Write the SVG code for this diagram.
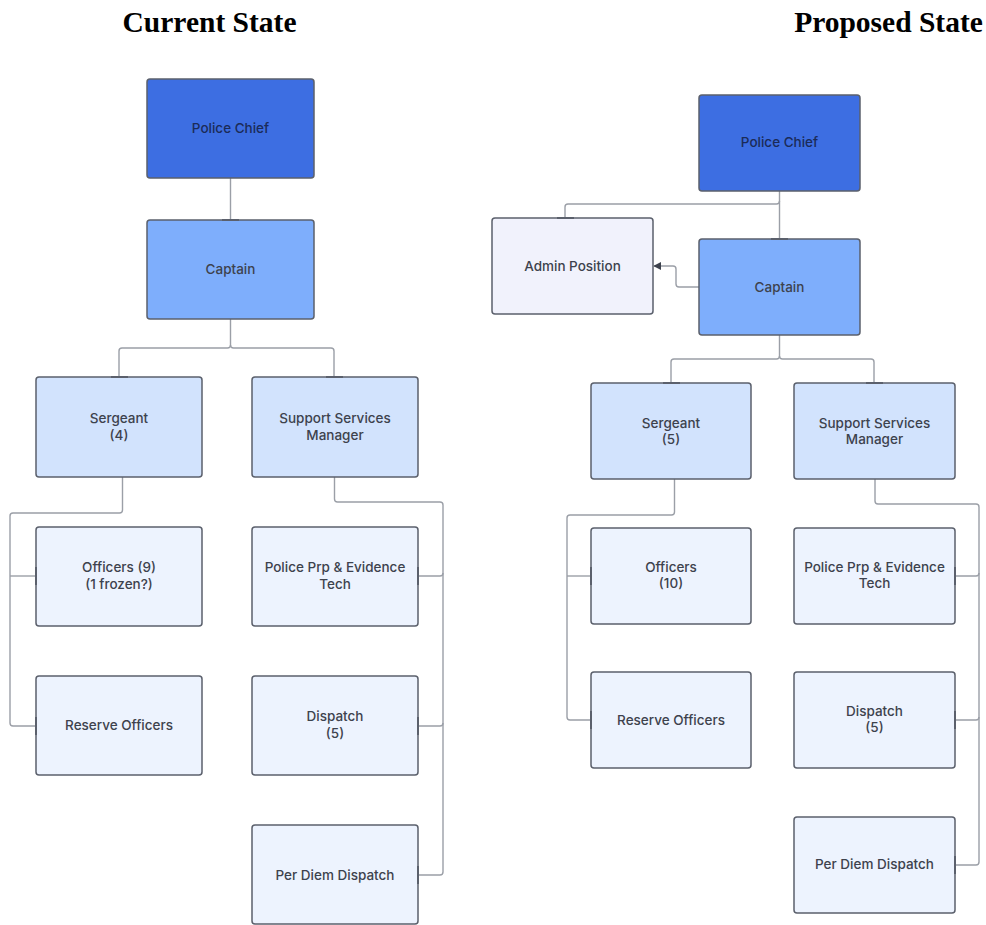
<svg xmlns="http://www.w3.org/2000/svg" width="986" height="925" viewBox="0 0 986 925">
  <style>
    .title { font-family: "Liberation Serif", "Times New Roman", serif; font-weight: bold; font-size: 29.5px; fill: #000; text-anchor: middle; }
    .box { stroke: #5b606c; stroke-width: 1.5; }
    .chief { fill: #3d6ee2; }
    .capt { fill: #7eaefc; }
    .mid { fill: #d2e3fd; }
    .low { fill: #edf3fe; }
    .admin { fill: #f1f2fc; }
    .lbl { font-family: "Inter", "Liberation Sans", Arial, sans-serif; font-size: 13.5px; font-weight: 500; fill: #3d424d; text-anchor: middle; }
    .lbl-dark { fill: #1b2b58; }
    .wire { fill: none; stroke: #9b9fa7; stroke-width: 1.4; stroke-linejoin: round; }
    .tick { stroke: #5b606c; stroke-width: 2; }
  </style>
  <defs>
    <marker id="arrow" viewBox="0 0 10 10" refX="9" refY="5" markerWidth="8" markerHeight="8" markerUnits="userSpaceOnUse" orient="auto">
      <path d="M0,0 L10,5 L0,10 z" fill="#3d424d"/>
    </marker>
  </defs>

  <rect width="986" height="925" fill="#ffffff"/>

  <text class="title" x="209.5" y="32">Current State</text>
  <text class="title" x="888.5" y="32">Proposed State</text>

  <!-- connectors -->
  <g id="connectors">
    <!-- current -->
    <path class="wire" d="M230.5,178 V220"/>
    <path class="wire" d="M230.5,319 V345 Q230.5,348 227.5,348 H122 Q119,348 119,351 V377"/>
    <path class="wire" d="M230.5,345 Q230.5,348 233.5,348 H331 Q334,348 334,351 V377"/>
    <path class="wire" d="M122.5,477 V510 Q122.5,513 119.5,513 H13 Q10,513 10,516 V723 Q10,726 13,726 H36"/>
    <path class="wire" d="M10,576 H36"/>
    <path class="wire" d="M334.5,477 V499 Q334.5,502 337.5,502 H440 Q443,502 443,505 V872 Q443,875 440,875 H418"/>
    <path class="wire" d="M443,573 Q443,576 440,576 H418"/>
    <path class="wire" d="M443,723 Q443,726 440,726 H418"/>
    <!-- proposed -->
    <path class="wire" d="M779.5,191 V239"/>
    <path class="wire" d="M779.5,201 Q779.5,204 776.5,204 H568 Q565,204 565,207 V218"/>
    <path class="wire" d="M699,287 H679 Q676,287 676,284 V269 Q676,266 673,266 H654" marker-end="url(#arrow)"/>
    <path class="wire" d="M779.5,335 V356 Q779.5,359 776.5,359 H674 Q671,359 671,362 V383"/>
    <path class="wire" d="M779.5,356 Q779.5,359 782.5,359 H871 Q874,359 874,362 V383"/>
    <path class="wire" d="M674.5,479 V512 Q674.5,515 671.5,515 H570 Q567,515 567,518 V717 Q567,720 570,720 H591"/>
    <path class="wire" d="M567,576 H591"/>
    <path class="wire" d="M875,479 V501 Q875,504 878,504 H976 Q979,504 979,507 V862 Q979,865 976,865 H955"/>
    <path class="wire" d="M979,573 Q979,576 976,576 H955"/>
    <path class="wire" d="M979,717 Q979,720 976,720 H955"/>
  </g>

  <!-- current state nodes -->
  <g id="cur-chief">
    <rect class="box chief" x="147" y="79" width="167" height="99" rx="3"/>
    <text class="lbl lbl-dark" x="230.5" y="133">Police Chief</text>
  </g>
  <g id="cur-captain">
    <rect class="box capt" x="147" y="220" width="167" height="99" rx="3"/>
    <line class="tick" x1="222" y1="220" x2="239" y2="220"/>
    <text class="lbl" x="230.5" y="274">Captain</text>
  </g>
  <g id="cur-sergeant">
    <rect class="box mid" x="36" y="377" width="166" height="100" rx="3"/>
    <line class="tick" x1="111" y1="377" x2="128" y2="377"/>
    <text class="lbl" x="119" y="423">Sergeant</text>
    <text class="lbl" x="119" y="440">(4)</text>
  </g>
  <g id="cur-ssm">
    <rect class="box mid" x="252" y="377" width="166" height="100" rx="3"/>
    <line class="tick" x1="326" y1="377" x2="343" y2="377"/>
    <text class="lbl" x="335" y="423">Support Services</text>
    <text class="lbl" x="335" y="440">Manager</text>
  </g>
  <g id="cur-officers">
    <rect class="box low" x="36" y="527" width="166" height="99" rx="3"/>
    <line class="tick" x1="36" y1="567" x2="36" y2="585"/>
    <text class="lbl" x="119" y="572">Officers (9)</text>
    <text class="lbl" x="119" y="589">(1 frozen?)</text>
  </g>
  <g id="cur-reserve">
    <rect class="box low" x="36" y="676" width="166" height="99" rx="3"/>
    <line class="tick" x1="36" y1="717" x2="36" y2="735"/>
    <text class="lbl" x="119" y="730">Reserve Officers</text>
  </g>
  <g id="cur-ppet">
    <rect class="box low" x="252" y="527" width="166" height="99" rx="3"/>
    <line class="tick" x1="418" y1="567" x2="418" y2="585"/>
    <text class="lbl" x="335" y="572">Police Prp &amp; Evidence</text>
    <text class="lbl" x="335" y="589">Tech</text>
  </g>
  <g id="cur-dispatch">
    <rect class="box low" x="252" y="676" width="166" height="99" rx="3"/>
    <line class="tick" x1="418" y1="717" x2="418" y2="735"/>
    <text class="lbl" x="335" y="721">Dispatch</text>
    <text class="lbl" x="335" y="738">(5)</text>
  </g>
  <g id="cur-perdiem">
    <rect class="box low" x="252" y="825" width="166" height="99" rx="3"/>
    <line class="tick" x1="418" y1="866" x2="418" y2="884"/>
    <text class="lbl" x="335" y="880">Per Diem Dispatch</text>
  </g>

  <!-- proposed state nodes -->
  <g id="new-chief">
    <rect class="box chief" x="699" y="95" width="161" height="96" rx="3"/>
    <text class="lbl lbl-dark" x="779.5" y="147">Police Chief</text>
  </g>
  <g id="new-admin">
    <rect class="box admin" x="492" y="218" width="161" height="96" rx="3"/>
    <line class="tick" x1="557" y1="218" x2="574" y2="218"/>
    <text class="lbl" x="572.5" y="271">Admin Position</text>
  </g>
  <g id="new-captain">
    <rect class="box capt" x="699" y="239" width="161" height="96" rx="3"/>
    <line class="tick" x1="771" y1="239" x2="788" y2="239"/>
    <text class="lbl" x="779.5" y="292">Captain</text>
  </g>
  <g id="new-sergeant">
    <rect class="box mid" x="591" y="383" width="160" height="96" rx="3"/>
    <line class="tick" x1="663" y1="383" x2="680" y2="383"/>
    <text class="lbl" x="671" y="428">Sergeant</text>
    <text class="lbl" x="671" y="444">(5)</text>
  </g>
  <g id="new-ssm">
    <rect class="box mid" x="794" y="383" width="161" height="96" rx="3"/>
    <line class="tick" x1="866" y1="383" x2="883" y2="383"/>
    <text class="lbl" x="874.5" y="428">Support Services</text>
    <text class="lbl" x="874.5" y="444">Manager</text>
  </g>
  <g id="new-officers">
    <rect class="box low" x="591" y="528" width="160" height="96" rx="3"/>
    <line class="tick" x1="591" y1="567" x2="591" y2="585"/>
    <text class="lbl" x="671" y="572">Officers</text>
    <text class="lbl" x="671" y="588">(10)</text>
  </g>
  <g id="new-reserve">
    <rect class="box low" x="591" y="672" width="160" height="96" rx="3"/>
    <line class="tick" x1="591" y1="711" x2="591" y2="729"/>
    <text class="lbl" x="671" y="725">Reserve Officers</text>
  </g>
  <g id="new-ppet">
    <rect class="box low" x="794" y="528" width="161" height="96" rx="3"/>
    <line class="tick" x1="955" y1="567" x2="955" y2="585"/>
    <text class="lbl" x="874.5" y="572">Police Prp &amp; Evidence</text>
    <text class="lbl" x="874.5" y="588">Tech</text>
  </g>
  <g id="new-dispatch">
    <rect class="box low" x="794" y="672" width="161" height="96" rx="3"/>
    <line class="tick" x1="955" y1="711" x2="955" y2="729"/>
    <text class="lbl" x="874.5" y="716">Dispatch</text>
    <text class="lbl" x="874.5" y="732">(5)</text>
  </g>
  <g id="new-perdiem">
    <rect class="box low" x="794" y="817" width="161" height="96" rx="3"/>
    <line class="tick" x1="955" y1="856" x2="955" y2="874"/>
    <text class="lbl" x="874.5" y="869">Per Diem Dispatch</text>
  </g>
</svg>
